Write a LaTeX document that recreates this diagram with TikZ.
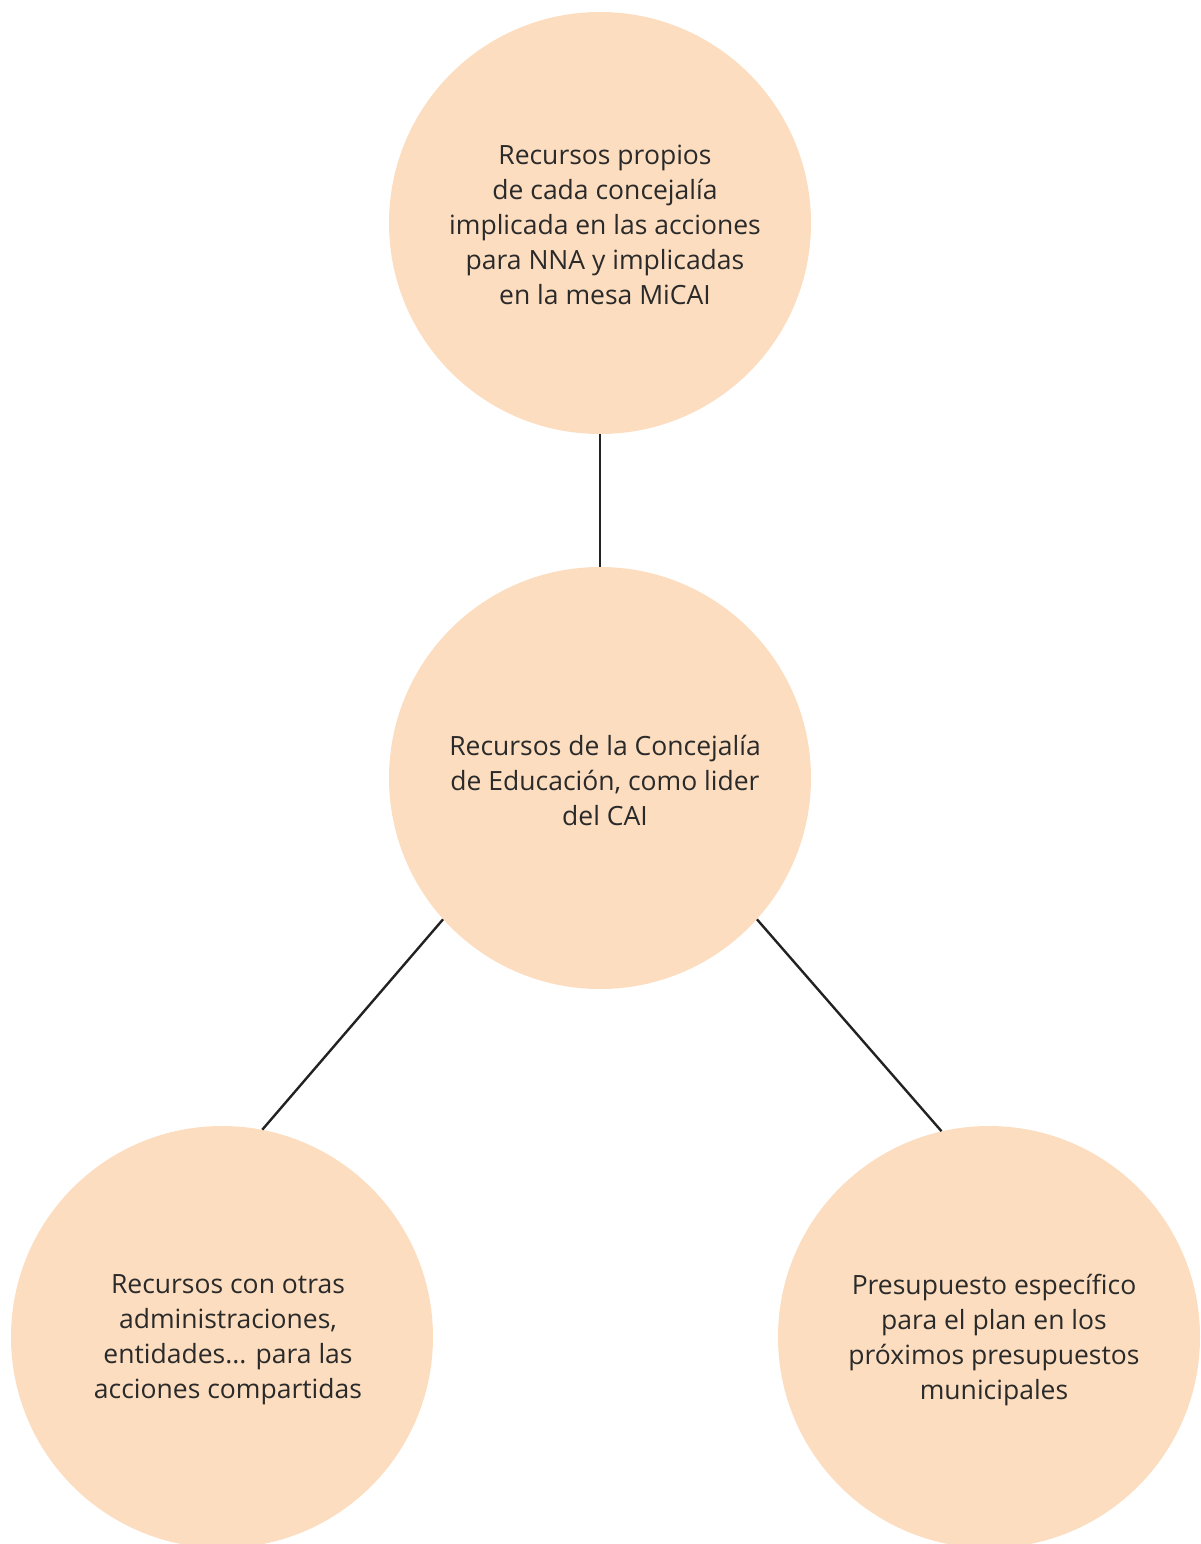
\documentclass[tikz,border=0pt]{standalone}
\usepackage{fontspec}
\setmainfont{Open Sans}
\definecolor{peach}{HTML}{FCDDBF}
\definecolor{txt}{HTML}{2A2A2A}
\definecolor{ln}{HTML}{222222}
\begin{document}
\begin{tikzpicture}[x=1pt,y=-1pt,
  bubble/.style={circle,fill=peach,draw=none,minimum size=422pt,inner sep=0pt},
  btext/.style={align=center,text=txt,font=\fontsize{26.5}{35}\selectfont,inner sep=0pt},
  link/.style={draw=ln,line width=2.4pt}]
\useasboundingbox (0,0) rectangle (1200,1544);
\node[bubble] (t) at (600,223) {};
\node[bubble] (m) at (600,778) {};
\node[bubble] (bl) at (222,1337) {};
\node[bubble] (br) at (989,1337) {};
\node[btext] (tt) at (605,225) {Recursos propios\\de cada concejalía\\implicada en las acciones\\para NNA y implicadas\\en la mesa MiCAI};
\node[btext] (mt) at (605,780) {Recursos de la Concejalía\\de Educación, como lider\\del CAI};
\node[btext] (blt) at (228,1340) {Recursos con otras\\administraciones,\\entidades... para las\\acciones compartidas};
\node[btext] (brt) at (994,1340) {Presupuesto específico\\para el plan en los\\próximos presupuestos\\municipales};
\draw[link] (t.south) -- (m.north);
\draw[link] (m.222) -- (bl.79);
\draw[link] (m.318.5) -- (br.103);
\end{tikzpicture}
\end{document}
